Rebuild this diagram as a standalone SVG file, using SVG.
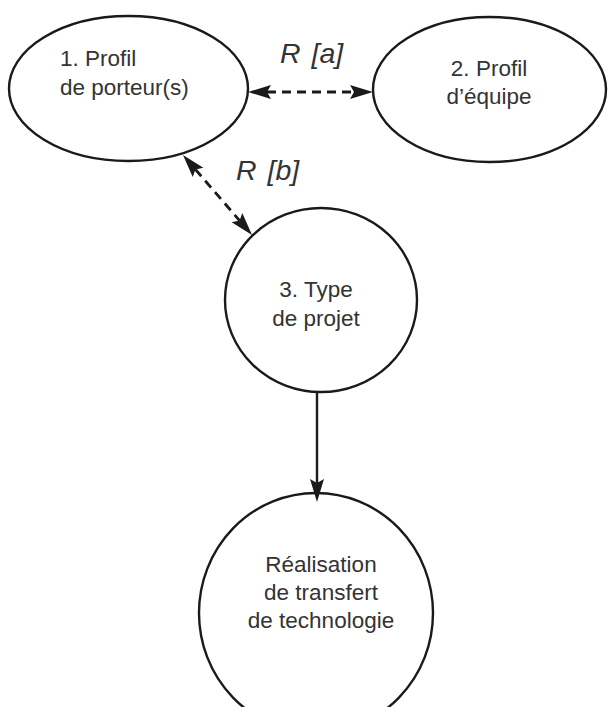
<svg xmlns="http://www.w3.org/2000/svg" width="609" height="707" viewBox="0 0 609 707">
<style>
.node{fill:#fff;stroke:#1a1a1a;stroke-width:2.4}
.lbl{font-family:"Liberation Sans",Arial,sans-serif;font-size:22.5px;fill:#333}
.rel{font-family:"Liberation Sans",Arial,sans-serif;font-size:28.5px;font-style:italic;fill:#333;word-spacing:3px}
.dash{stroke:#1a1a1a;stroke-width:2.8;stroke-dasharray:9 6;fill:none}
.solid{stroke:#1a1a1a;stroke-width:2.4;fill:none}
</style>
<defs>
<marker id="ah" markerUnits="userSpaceOnUse" markerWidth="30" markerHeight="20" viewBox="-2 -10 30 20" refX="4" refY="0" orient="auto-start-reverse" overflow="visible">
<path d="M0,-7 L23,0 L0,7 L4,0 Z" fill="#1a1a1a"/>
</marker>
</defs>
<rect width="609" height="707" fill="#fff"/>
<g id="n1">
<ellipse class="node" cx="128.5" cy="88.5" rx="119.5" ry="72.5"/>
<text class="lbl" x="60" y="66">1. Profil</text>
<text class="lbl" x="60" y="95">de porteur(s)</text>
</g>
<g id="n2">
<ellipse class="node" cx="489.5" cy="89.5" rx="116.5" ry="72.5"/>
<text class="lbl" x="489" y="76" text-anchor="middle">2. Profil</text>
<text class="lbl" x="489" y="104" text-anchor="middle">d’équipe</text>
</g>
<g id="n3">
<ellipse class="node" cx="321" cy="300" rx="96" ry="92"/>
<text class="lbl" x="316" y="297" text-anchor="middle">3. Type</text>
<text class="lbl" x="316" y="326" text-anchor="middle">de projet</text>
</g>
<g id="n4">
<ellipse class="node" cx="316" cy="613" rx="117" ry="120"/>
<text class="lbl" x="321" y="572" text-anchor="middle">Réalisation</text>
<text class="lbl" x="321" y="600" text-anchor="middle">de transfert</text>
<text class="lbl" x="321" y="628" text-anchor="middle">de technologie</text>
</g>
<g id="connectors">
<line class="dash" x1="267" y1="92" x2="354" y2="92" marker-start="url(#ah)" marker-end="url(#ah)"/>
<line class="dash" x1="195.4" y1="169.4" x2="239.6" y2="220.6" marker-start="url(#ah)" marker-end="url(#ah)"/>
<line class="solid" x1="317" y1="392" x2="317" y2="483" marker-end="url(#ah)"/>
<text class="rel" x="280" y="63">R [a]</text>
<text class="rel" x="236" y="180">R [b]</text>
</g>
</svg>
